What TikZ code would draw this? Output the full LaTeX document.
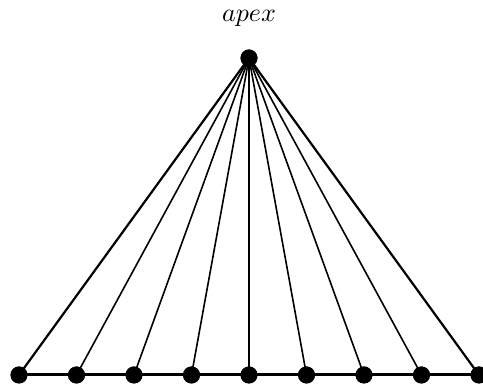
\documentclass[tikz,border=0pt]{standalone}
\begin{document}
\begin{tikzpicture}[x=1pt,y=1pt,
  dot/.style={circle,fill=black,inner sep=0pt,minimum size=17pt},
  fan/.style={line width=1.6pt},
  outer/.style={line width=2.2pt},
  base/.style={line width=3pt}]
\useasboundingbox (0,0) rectangle (483,387);
\begin{scope}
\clip (0,0) rectangle (483,387);
\node[dot] (apex) at (249,329) {};
\foreach \i in {0,...,8} {
  \node[dot] (b\i) at ({19+57.5*\i},12) {};
}
\draw[base] (b0.center) -- (b8.center);
\draw[outer] (apex.center) -- (b0.center);
\draw[outer] (apex.center) -- (b8.center);
\foreach \i in {1,...,7} {
  \draw[fan] (apex.center) -- (b\i.center);
}
\node[dot] at (apex) {};
\foreach \i in {0,...,8} { \node[dot] at (b\i) {}; }
\end{scope}
\node[scale=2.6] (lbl) at (249,369) {$apex$};
\end{tikzpicture}
\end{document}
